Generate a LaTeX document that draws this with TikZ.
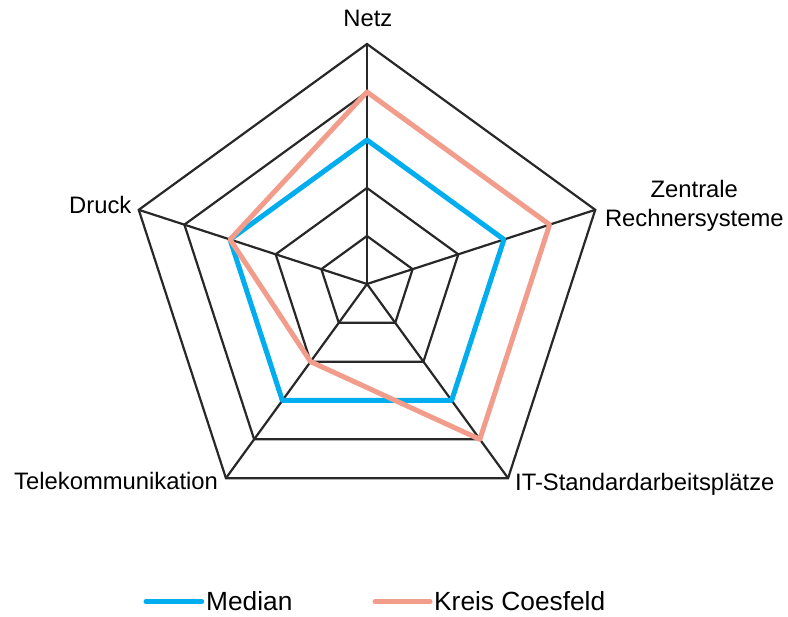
\documentclass[tikz,border=0pt]{standalone}
\usepackage{fontspec}
\setmainfont{Liberation Sans}
\definecolor{gridc}{RGB}{40,40,40}
\definecolor{medianc}{RGB}{0,174,239}
\definecolor{kreisc}{RGB}{242,157,140}
\begin{document}
\begin{tikzpicture}[x=1pt,y=1pt,
  gridline/.style={draw=gridc,line width=2.2pt,line join=miter},
  serie/.style={line width=5pt,line join=round,line cap=round},
  lbl/.style={inner sep=0pt,font=\fontsize{23.8}{28}\selectfont,text=black},
  leglbl/.style={inner sep=0pt,font=\fontsize{26.3}{30}\selectfont,text=black}]
\useasboundingbox (0,0) rectangle (788,617);
\fill[white] (0,0) rectangle (788,617);
\coordinate (c) at (367,333);
\begin{scope}[shift={(c)}]
  % rings
  \foreach \k in {1,...,5}{
    \draw[gridline] (90:48*\k) -- (18:48*\k) -- (-54:48*\k) -- (-126:48*\k) -- (162:48*\k) -- cycle;
  }
  % spokes
  \foreach \a/\n in {90/netz,18/zen,-54/it,-126/tel,162/dru}{
    \coordinate (\n) at (\a:240);
    \draw[gridline] (0,0) -- (\n);
  }
  % Median
  \coordinate (m1) at (90:144);
  \coordinate (m2) at (18:144);
  \coordinate (m3) at (-54:144);
  \coordinate (m4) at (-126:144);
  \coordinate (m5) at (162:144);
  \draw[serie,draw=medianc] (m1) -- (m2) -- (m3) -- (m4) -- (m5) -- cycle;
  % Kreis Coesfeld
  \coordinate (k1) at (90:192);
  \coordinate (k2) at (18:192);
  \coordinate (k3) at (-54:192);
  \coordinate (k4) at (-126:96);
  \coordinate (k5) at (162:144);
  \draw[serie,draw=kreisc] (k1) -- (k2) -- (k3) -- (k4) -- (k5) -- cycle;
\end{scope}
% axis labels
\node[lbl,anchor=base] (lnetz) at (367.8,590.3) {Netz};
\node[lbl,anchor=base] (lzen1) at (694.3,419) {Zentrale};
\node[lbl,anchor=base] (lzen2) at (694.3,390.3) {Rechnersysteme};
\node[lbl,anchor=base west] (ldru) at (69,403.7) {Druck};
\node[lbl,anchor=base west] (ltel) at (14,127) {Telekommunikation};
\node[lbl,anchor=base west] (lit) at (515,126.3) {IT-Standardarbeitsplätze};
% legend
\coordinate (lm1) at (146,15.3);
\coordinate (lm2) at (201.7,15.3);
\draw[serie,draw=medianc] (lm1) -- (lm2);
\node[leglbl,anchor=base west] (lmed) at (206,6) {Median};
\coordinate (lk1) at (375,15.3);
\coordinate (lk2) at (430,15.3);
\draw[serie,draw=kreisc] (lk1) -- (lk2);
\node[leglbl,anchor=base west] (lkre) at (434,6) {Kreis Coesfeld};
\end{tikzpicture}
\end{document}
